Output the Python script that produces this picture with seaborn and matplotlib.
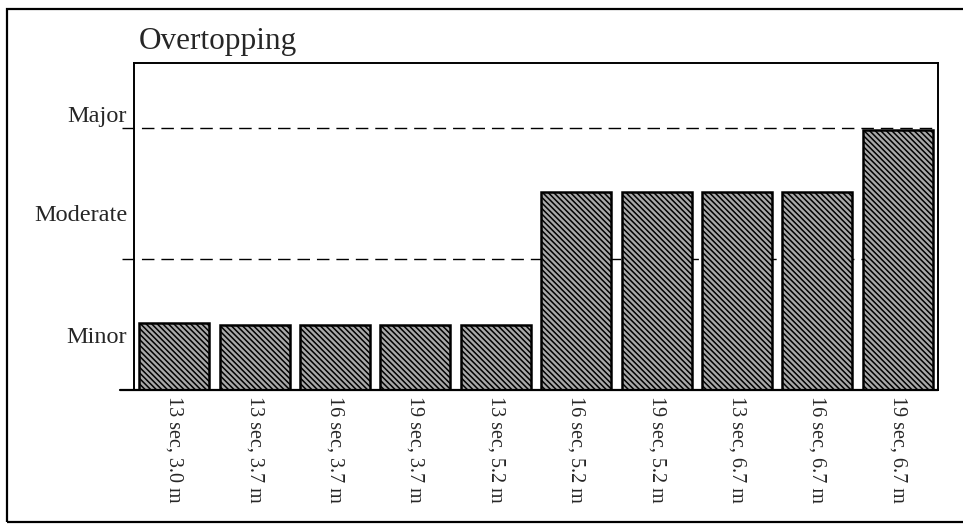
import matplotlib
matplotlib.use('Agg')
import matplotlib.pyplot as plt
import matplotlib.patches as mpatches
import seaborn as sns
import pandas as pd

# wave period / height cases along the x axis
cases = ['13 sec, 3.0 m', '13 sec, 3.7 m', '16 sec, 3.7 m', '19 sec, 3.7 m', '13 sec, 5.2 m',
         '16 sec, 5.2 m', '19 sec, 5.2 m', '13 sec, 6.7 m', '16 sec, 6.7 m', '19 sec, 6.7 m']
# overtopping severity (0-1 minor, 1-2 moderate, >2 major)
severity = [0.51, 0.50, 0.50, 0.50, 0.50, 1.51, 1.51, 1.51, 1.51, 1.99]

level_names = ['Minor', 'Moderate', 'Major']
level_label_pos = [0.42, 1.35, 2.11]
thresholds = [1.0, 2.0]


def main():
    sns.set_style('white')
    plt.rcParams['font.family'] = ['Liberation Serif', 'DejaVu Serif']
    plt.rcParams['hatch.linewidth'] = 1.1

    df = pd.DataFrame({'Case': cases, 'Severity': severity})

    fig = plt.figure(figsize=(9.63, 5.27), dpi=100)
    ax = fig.add_axes([134/963, 1-390/527, (938-134)/963, (390-63)/527])

    for t in thresholds:
        ax.axhline(t, xmin=-0.015, xmax=1, color='black', lw=1.0, dashes=(9, 5),
                   clip_on=False, zorder=1)

    sns.barplot(data=df, x='Case', y='Severity', color='#a8a8a8', width=0.87,
                edgecolor='black', linewidth=1.8, saturation=1, ax=ax, zorder=2)
    for p in ax.patches:
        p.set_hatch('\\\\\\\\\\\\')

    ax.set_xlim(-0.5, 9.5)
    ax.set_ylim(0, 2.5)
    ax.axhline(0, xmin=-0.018, xmax=1, color='black', lw=1.6, clip_on=False, zorder=3)

    ax.set_yticks(level_label_pos)
    ax.set_yticklabels(level_names, fontsize=17.5)
    ax.set_xticks(range(len(cases)))
    ax.set_xticklabels(cases, rotation=270, fontsize=14.5, va='top', ha='center')
    ax.tick_params(axis='both', length=0)
    ax.tick_params(axis='y', pad=5)
    ax.tick_params(axis='x', pad=4)
    ax.set_xlabel('')
    ax.set_ylabel('')

    for s in ax.spines.values():
        s.set_visible(True)
        s.set_color('black')
        s.set_linewidth(1.4)

    ax.text(0.006, 1.042, 'Overtopping', transform=ax.transAxes, fontsize=22.5,
            va='baseline', ha='left')

    # outer frame around the whole figure
    frame = mpatches.Rectangle((7/963, 1-522/527), 1.2, (522-9)/527, transform=fig.transFigure,
                               fill=False, edgecolor='black', lw=1.6, clip_on=False)
    fig.patches.append(frame)

    fig.savefig('out.png', dpi=100)
    plt.close()


if __name__ == '__main__':
    main()
